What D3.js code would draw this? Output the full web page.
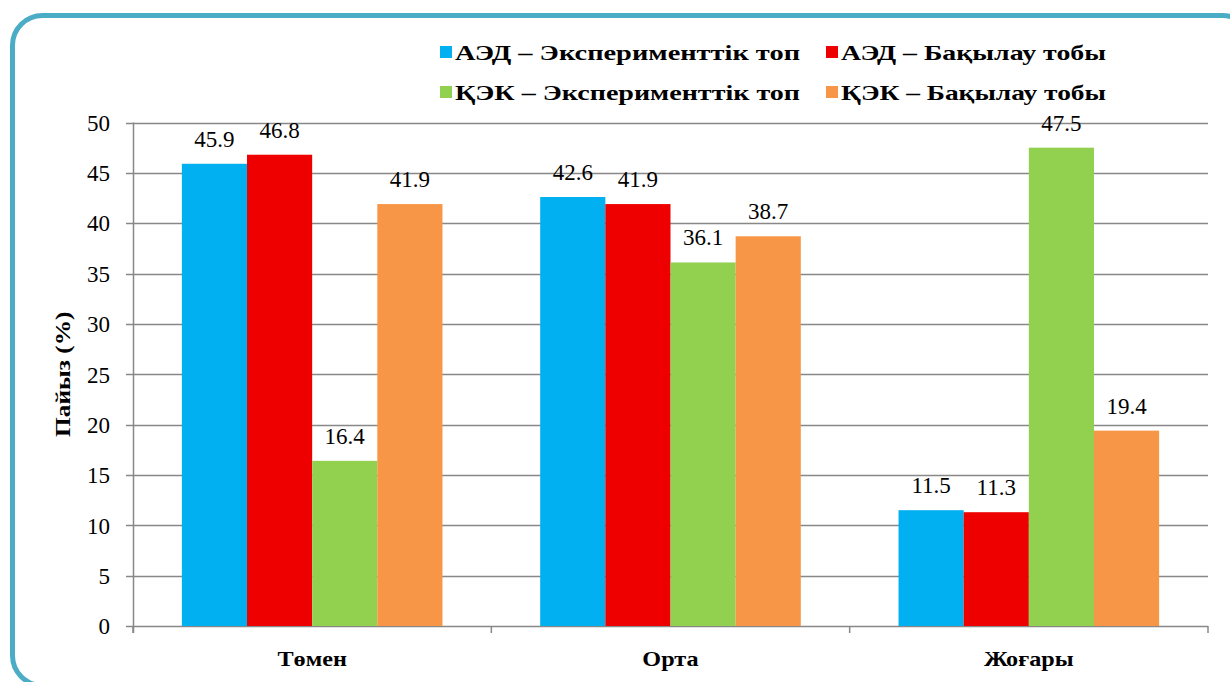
<!DOCTYPE html>
<html>
<head>
<meta charset="utf-8">
<script src="https://cdn.jsdelivr.net/npm/d3@7"></script>
<style>
  body { margin: 0; background: #fff; }
  svg { display: block; }
</style>
</head>
<body>
<script>
"use strict";

var categories = ["Төмен", "Орта", "Жоғары"];
var seriesNames = ["АЭД – Эксперименттік топ", "АЭД – Бақылау тобы",
                   "ҚЭК – Эксперименттік топ", "ҚЭК – Бақылау тобы"];
var aedExp = [45.9, 42.6, 11.5];
var aedCtrl = [46.8, 41.9, 11.3];
var kekExp = [16.4, 36.1, 47.5];
var kekCtrl = [41.9, 38.7, 19.4];
var yTicks = [0, 5, 10, 15, 20, 25, 30, 35, 40, 45, 50];
var colors = ["#00B0F0", "#EE0000", "#92D050", "#F79646"];

var seriesValues = [aedExp, aedCtrl, kekExp, kekCtrl];

var width = 1230, height = 682;
var font = "'Liberation Serif', 'Times New Roman', serif";

var svg = d3.select("body").append("svg")
    .attr("width", width)
    .attr("height", height)
    .style("font-family", font);

// frame round the chart
svg.append("rect")
  .attr("x", 12.5).attr("y", 15.5)
  .attr("width", 1240).attr("height", 670)
  .attr("rx", 30).attr("ry", 30)
  .attr("fill", "#fff")
  .attr("stroke", "#4BACC6")
  .attr("stroke-width", 5);

var plot = {left: 133, right: 1208, top: 122.5, bottom: 626};

var x0 = d3.scaleBand().domain(categories).range([plot.left, plot.right]).padding(0);
// 150% gap between groups (Excel style)
var x1 = d3.scaleBand().domain(d3.range(4))
    .range([0, x0.bandwidth()]).paddingOuter(0.75).paddingInner(0);
var y = d3.scaleLinear().domain([0, 50]).range([plot.bottom, plot.top]);

// bold labels are a bit wider in the original face
function widen(sel, k) {
  sel.each(function() {
    var w = this.getComputedTextLength();
    d3.select(this).attr("textLength", w * k).attr("lengthAdjust", "spacingAndGlyphs");
  });
}

// grid lines and y ticks
svg.append("g").selectAll("line")
  .data(yTicks)
  .join("line")
    .attr("x1", plot.left - 7).attr("x2", plot.right)
    .attr("y1", function(d) { return Math.round(y(d)) + 0.5; })
    .attr("y2", function(d) { return Math.round(y(d)) + 0.5; })
    .attr("stroke", "#888").attr("stroke-width", 1.5);

svg.append("g").selectAll("text")
  .data(yTicks)
  .join("text")
    .attr("x", 110)
    .attr("y", function(d) { return y(d); })
    .attr("dy", "0.36em")
    .attr("text-anchor", "end")
    .attr("font-size", 23)
    .text(function(d) { return d; });

// bars
var groups = svg.append("g").selectAll("g")
  .data(categories)
  .join("g")
    .attr("transform", function(d) { return "translate(" + x0(d) + ",0)"; });

groups.selectAll("rect")
  .data(function(d, i) { return seriesValues.map(function(s, k) { return {k: k, v: s[i]}; }); })
  .join("rect")
    .attr("x", function(d) { return x1(d.k); })
    .attr("y", function(d) { return y(d.v); })
    .attr("width", x1.bandwidth())
    .attr("height", function(d) { return y(0) - y(d.v); })
    .attr("fill", function(d) { return colors[d.k]; });

groups.selectAll("text")
  .data(function(d, i) { return seriesValues.map(function(s, k) { return {k: k, v: s[i]}; }); })
  .join("text")
    .attr("x", function(d) { return x1(d.k) + x1.bandwidth() / 2; })
    .attr("y", function(d) { return y(d.v) - 17; })
    .attr("text-anchor", "middle")
    .attr("font-size", 23)
    .text(function(d) { return d.v.toFixed(1); });

// axes lines
svg.append("line")
  .attr("x1", plot.left + 0.5).attr("x2", plot.left + 0.5)
  .attr("y1", plot.top).attr("y2", plot.bottom + 7)
  .attr("stroke", "#888").attr("stroke-width", 1.5);

var bounds = [plot.left, x0("Орта"), x0("Жоғары"), plot.right];
svg.append("g").selectAll("line")
  .data(bounds)
  .join("line")
    .attr("x1", function(d) { return d; }).attr("x2", function(d) { return d; })
    .attr("y1", plot.bottom).attr("y2", plot.bottom + 7)
    .attr("stroke", "#888").attr("stroke-width", 1.5);

// category labels
svg.append("g").selectAll("text")
  .data(categories)
  .join("text")
    .attr("x", function(d) { return x0(d) + x0.bandwidth() / 2; })
    .attr("y", 666)
    .attr("text-anchor", "middle")
    .attr("font-size", 22).attr("font-weight", "bold")
    .text(function(d) { return d; })
    .call(widen, 1.1);

// y axis title
svg.append("text")
  .attr("transform", "translate(70," + ((plot.top + plot.bottom) / 2) + ") rotate(-90)")
  .attr("text-anchor", "middle")
  .attr("font-size", 22).attr("font-weight", "bold")
  .text("Пайыз (%)")
  .call(widen, 1.15);

// legend
var legendPos = [[440, 52], [826, 52], [440, 92], [826, 92]];
var legendWidth = [345, 265, 345, 265];
var legend = svg.append("g").selectAll("g")
  .data(seriesNames)
  .join("g")
    .attr("transform", function(d, i) { return "translate(" + legendPos[i][0] + "," + legendPos[i][1] + ")"; });

legend.append("rect")
  .attr("x", 0).attr("y", -6).attr("width", 12).attr("height", 12)
  .attr("fill", function(d, i) { return colors[i]; });

legend.append("text")
  .attr("x", 15).attr("y", 0).attr("dy", "0.36em")
  .attr("font-size", 22).attr("font-weight", "bold")
  .attr("textLength", function(d, i) { return legendWidth[i]; })
  .attr("lengthAdjust", "spacingAndGlyphs")
  .text(function(d) { return d; });
</script>
</body>
</html>
